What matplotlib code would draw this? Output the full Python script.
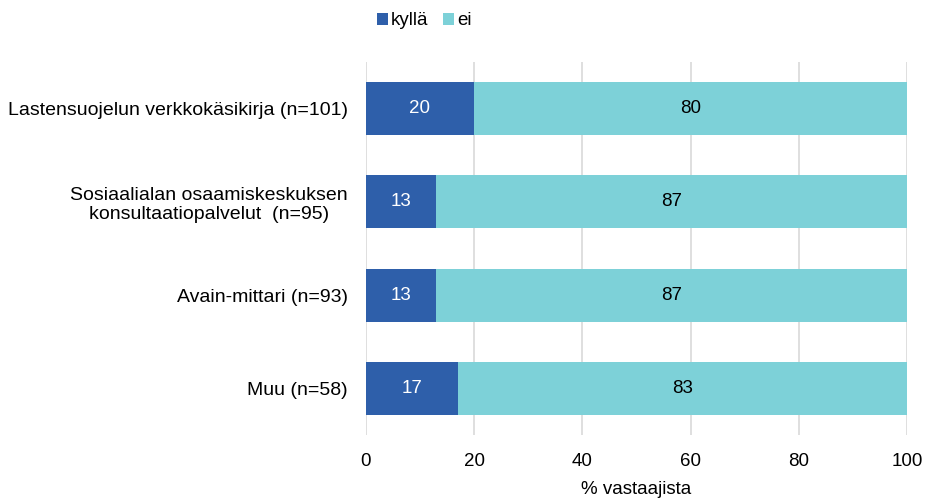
import matplotlib.pyplot as plt
import numpy as np

plt.rcParams['font.family'] = ['Liberation Sans', 'DejaVu Sans']

categories = [
    'Lastensuojelun verkkokäsikirja (n=101)',
    'Sosiaalialan osaamiskeskuksen\nkonsultaatiopalvelut  (n=95)',
    'Avain-mittari (n=93)',
    'Muu (n=58)',
]
kylla = [20, 13, 13, 17]
ei = [80, 87, 87, 83]
xticks = [0, 20, 40, 60, 80, 100]

c_kylla = '#2E5FAA'
c_ei = '#7DD1D8'

fig = plt.figure(figsize=(9.26, 4.99), dpi=100)
ax = fig.add_axes([0.395, 0.128, 0.5845, 0.748])

y = np.arange(len(categories))
b1 = ax.barh(y, kylla, height=0.57, color=c_kylla, label='kyllä', zorder=2)
b2 = ax.barh(y, ei, left=kylla, height=0.57, color=c_ei, label='ei', zorder=2)

for i in range(len(categories)):
    ax.text(kylla[i] / 2, y[i], str(kylla[i]), ha='center', va='center',
            color='white', fontsize=13.5)
    ax.text(kylla[i] + ei[i] / 2, y[i], str(ei[i]), ha='center', va='center',
            color='black', fontsize=13.5)

ax.set_ylim(3.5, -0.5)
ax.set_xlim(0, 100)
ax.set_xticks(xticks)
ax.set_yticks(y)
ax.set_yticklabels(categories, fontsize=14)
ax.tick_params(axis='x', labelsize=13.5, length=0, pad=13)
ax.tick_params(axis='y', length=0, pad=13)
for lbl in ax.get_yticklabels():
    lbl.set_multialignment('center')
ax.grid(axis='x', color='#D9D9D9', linewidth=1.2, zorder=0)
for s in ax.spines.values():
    s.set_visible(False)
ax.set_xlabel('% vastaajista', fontsize=13.5, labelpad=8)

fig.legend(handles=[b1, b2], loc='center', bbox_to_anchor=(0.458, 0.958), ncol=2,
           frameon=False, fontsize=13.5, handlelength=0.6, handleheight=0.6,
           handletextpad=0.15, columnspacing=0.8)

fig.savefig('out.png', dpi=100)
